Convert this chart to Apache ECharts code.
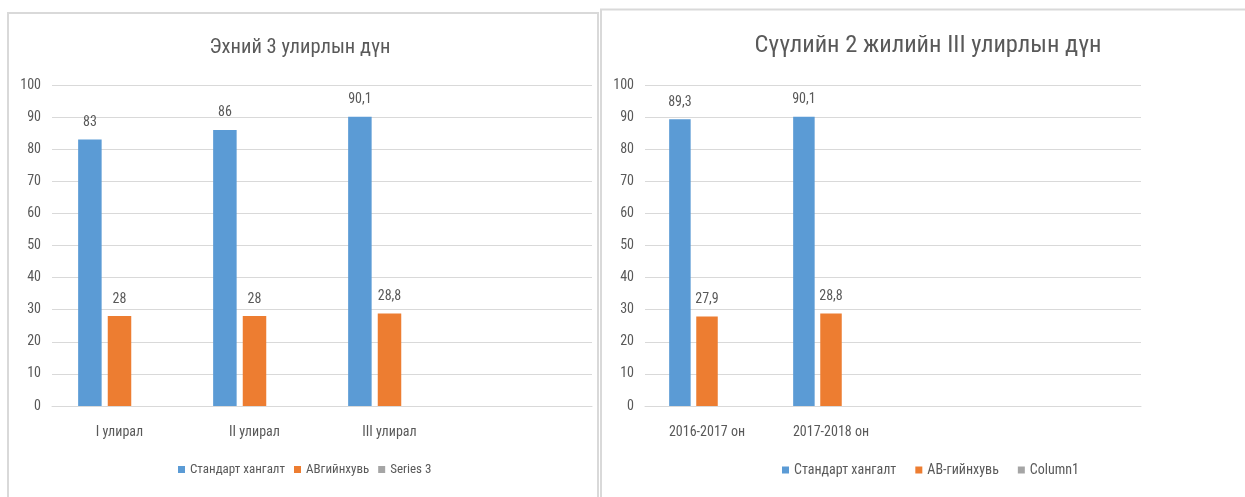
<!DOCTYPE html>
<html>
<head>
<meta charset="utf-8">
<script src="https://cdn.jsdelivr.net/npm/echarts@6/dist/echarts.min.js"></script>
<style>
html,body{margin:0;padding:0;background:#fff;}
#c{width:1245px;height:497px;}
</style>
</head>
<body>
<div id="c"></div>
<script>
// ---- data ----
var leftTitle = 'Эхний 3 улирлын дүн';
var leftCategories = ['I улирал', 'II улирал', 'III улирал', ''];
var leftStandard = [83, 86, 90.1];
var leftAB = [28, 28, 28.8];
var leftSeries3 = [];
var leftNames = ['Стандарт хангалт', 'АВгийнхувь', 'Series 3'];

var rightTitle = 'Сүүлийн 2 жилийн III улирлын дүн';
var rightCategories = ['2016-2017 он', '2017-2018 он', '', ''];
var rightStandard = [89.3, 90.1];
var rightAB = [27.9, 28.8];
var rightColumn1 = [];
var rightNames = ['Стандарт хангалт', 'АВ-гийнхувь', 'Column1'];

var yTicks = {min: 0, max: 100, interval: 10};

// ---- styles ----
var FONT = "'Roboto Condensed', 'DejaVu Sans Condensed', Roboto, sans-serif";
var TXT = '#595959';
var GRID = '#D9D9D9';
var COLORS = ['#5B9BD5', '#ED7D31', '#A5A5A5'];

function fmt(p){ return String(p.value).replace('.', ','); }

function yAxis(idx){
  return {
    type: 'value', gridIndex: idx, min: yTicks.min, max: yTicks.max, interval: yTicks.interval,
    axisLine: {show: false}, axisTick: {show: false},
    axisLabel: {color: TXT, fontSize: 14, fontFamily: FONT, margin: 11},
    splitLine: {lineStyle: {color: GRID, width: 1}}
  };
}
function xAxis(idx, cats){
  return {
    type: 'category', gridIndex: idx, data: cats,
    axisLine: {lineStyle: {color: GRID, width: 1}}, axisTick: {show: false},
    axisLabel: {color: TXT, fontSize: 14, fontFamily: FONT, margin: 19, interval: 0}
  };
}
function bars(names, datas, idx, w){
  return datas.map(function(d, i){
    return {
      name: names[i], type: 'bar', xAxisIndex: idx, yAxisIndex: idx,
      data: d, barWidth: w, barGap: '26%',
      itemStyle: {color: COLORS[i]},
      label: {show: true, position: 'top', distance: 10, color: TXT, fontSize: 14, fontFamily: FONT, formatter: fmt},
      animation: false
    };
  });
}

var chart = echarts.init(document.getElementById('c'), null, {renderer: 'canvas'});
chart.setOption({
  backgroundColor: '#fff',
  animation: false,
  graphic: [
    {type: 'rect', shape: {x: 8, y: 13, width: 590, height: 500}, style: {fill: 'none', stroke: GRID, lineWidth: 2}, silent: true, z: -1},
    {type: 'rect', shape: {x: 601, y: 9.5, width: 700, height: 500}, style: {fill: 'none', stroke: GRID, lineWidth: 2}, silent: true, z: -1}
  ],
  title: [
    {text: leftTitle, left: 295, top: 32, textAlign: 'center',
     textStyle: {color: TXT, fontSize: 20.5, fontWeight: 'normal', fontFamily: FONT}},
    {text: rightTitle, left: 923, top: 28, textAlign: 'center',
     textStyle: {color: TXT, fontSize: 24.5, fontWeight: 'normal', fontFamily: FONT}}
  ],
  legend: [
    {data: leftNames, left: 173, top: 458, itemWidth: 7, itemHeight: 7, itemGap: 9,
     icon: 'rect', textStyle: {color: TXT, fontSize: 13, fontFamily: FONT}},
    {data: rightNames, left: 777, top: 458, itemWidth: 7, itemHeight: 7, itemGap: 19,
     icon: 'rect', textStyle: {color: TXT, fontSize: 14, fontFamily: FONT}}
  ],
  grid: [
    {left: 52, top: 85, width: 540, height: 321},
    {left: 645, top: 85, width: 496, height: 321}
  ],
  xAxis: [xAxis(0, leftCategories), xAxis(1, rightCategories)],
  yAxis: [yAxis(0), yAxis(1)],
  series: bars(leftNames, [leftStandard, leftAB, leftSeries3], 0, 23.5)
    .concat(bars(rightNames, [rightStandard, rightAB, rightColumn1], 1, 21.5))
});
</script>
</body>
</html>
